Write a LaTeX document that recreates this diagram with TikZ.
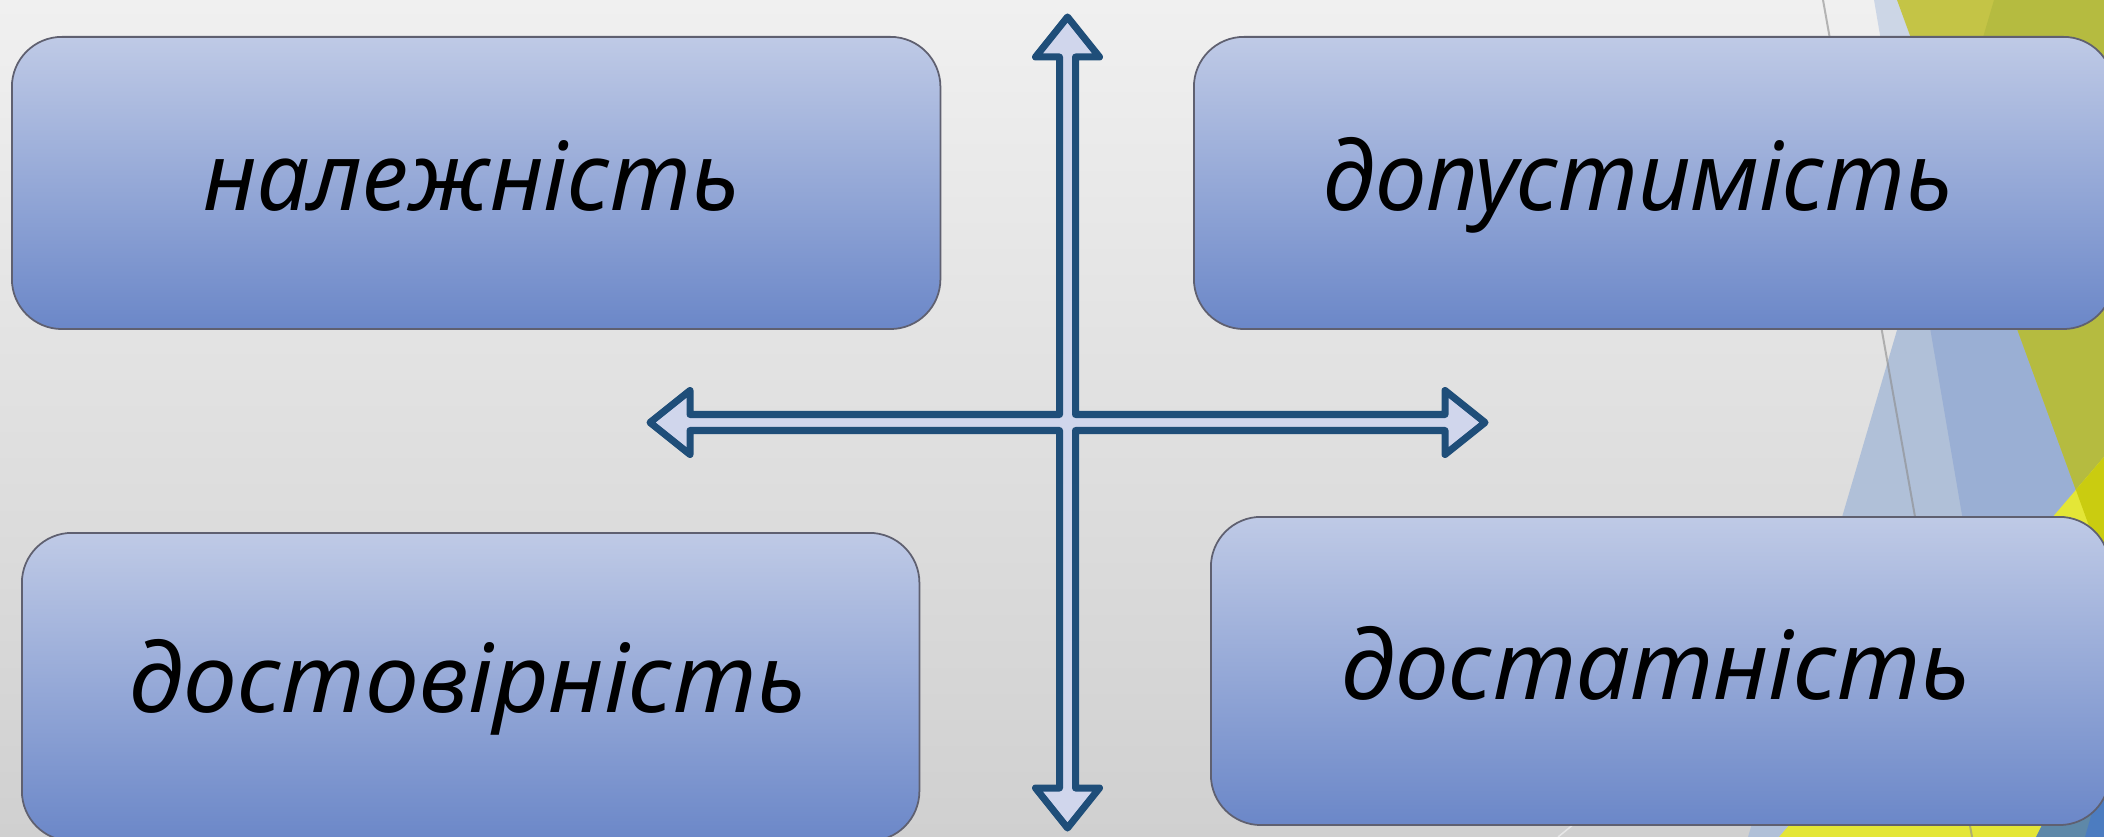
\documentclass[tikz,border=0pt]{standalone}
\usepackage{fontspec}
\newfontfamily\cf{Noto Sans}
\definecolor{bgtop}{HTML}{F0F0F0}
\definecolor{bgbot}{HTML}{D0D0D0}
\definecolor{boxtop}{HTML}{BFCAE6}
\definecolor{boxbot}{HTML}{6B87C8}
\definecolor{boxline}{HTML}{5F6070}
\definecolor{arrline}{HTML}{1F4E79}
\definecolor{arrfill}{HTML}{D0D6EC}
\definecolor{medblue}{HTML}{CCD6E6}
\definecolor{ltblue}{HTML}{B0C0D8}
\definecolor{bothblue}{HTML}{9AAFD4}
\definecolor{olive}{HTML}{C4C446}
\definecolor{darkolive}{HTML}{B5BB40}
\definecolor{yel}{HTML}{E4E637}
\definecolor{brightyel}{HTML}{CACC10}
\definecolor{steel}{HTML}{5E88A8}
\definecolor{deepblue}{HTML}{4C7CC0}
\tikzset{
  box/.style={draw=boxline, line width=0.5pt, rounded corners=0.5cm,
    top color=boxtop, bottom color=boxbot, anchor=north west, inner sep=0pt},
  lbl/.style={font=\cf\itshape\fontsize{27}{27}\selectfont, inner sep=0pt, anchor=base, text=black},
  arrst/.style={draw=arrline, fill=arrfill, line width=0.07cm, line join=round}
}
\begin{document}
\begin{tikzpicture}[x=0.01cm,y=-0.01cm]
\useasboundingbox (0,0) rectangle (2104,837);
\shade[top color=bgtop,bottom color=bgbot] (0,0) rectangle (2104,837);
% facet decoration
\fill[medblue] (1874,0) -- (2104,0) -- (2104,837) -- (2017,837) -- cycle;
\fill[ltblue] (1994,0) -- (2104,0) -- (2104,837) -- (1748,837) -- cycle;
\begin{scope}
\clip (1874,0) -- (2104,0) -- (2104,837) -- (2017,837) -- cycle;
\fill[bothblue] (1994,0) -- (2104,0) -- (2104,837) -- (1748,837) -- cycle;
\end{scope}
\fill[olive] (1897,0) -- (2104,0) -- (2104,567) -- cycle;
\begin{scope}
\clip (1897,0) -- (2104,0) -- (2104,567) -- cycle;
\fill[darkolive] (1994,0) -- (2104,0) -- (2104,837) -- (1748,837) -- cycle;
\end{scope}
\fill[yel] (2104,457) -- (1779,837) -- (2036,837) -- (2104,701) -- cycle;
\begin{scope}
\clip (2104,457) -- (1779,837) -- (2036,837) -- (2104,701) -- cycle;
\fill[brightyel] (1897,0) -- (2104,0) -- (2104,567) -- cycle;
\end{scope}
\fill[steel] (2036,837) -- (2104,701) -- (2104,837) -- cycle;
\fill[deepblue] (2085,837) -- (2104,770) -- (2104,837) -- cycle;
\draw[black!45, opacity=0.6, line width=0.02cm] (1823,0) -- (1972,837);
\draw[white, opacity=0.5, line width=0.015cm] (1558,837) -- (1640,770);
% boxes
\node[box, minimum width=9.28cm, minimum height=2.92cm] (b1) at (11,36) {};
\node[box, minimum width=9.19cm, minimum height=2.92cm] (b2) at (1193,36) {};
\node[box, minimum width=8.97cm, minimum height=3.08cm] (b3) at (21,532) {};
\node[box, minimum width=8.98cm, minimum height=3.08cm] (b4) at (1210,516) {};
% labels
\node[lbl] (t1) at (471.5,211) {\resizebox{5.35cm}{\height}{належність}};
\node[lbl] (t2) at (1638,211) {\resizebox{6.28cm}{\height}{допустимість}};
\node[lbl] (t3) at (468,712) {\resizebox{6.76cm}{\height}{достовірність}};
\node[lbl] (t4) at (1656,699) {\resizebox{6.28cm}{\height}{достатність}};
% quad arrow
\draw[arrst] (1067.5,17) -- (1099.5,57) -- (1075.5,57) -- (1075.5,414.5) -- (1445,414.5) -- (1445,390.5) -- (1485,422.5) -- (1445,454.5) -- (1445,430.5) -- (1075.5,430.5) -- (1075.5,788) -- (1099.5,788) -- (1067.5,828) -- (1035.5,788) -- (1059.5,788) -- (1059.5,430.5) -- (690,430.5) -- (690,454.5) -- (650,422.5) -- (690,390.5) -- (690,414.5) -- (1059.5,414.5) -- (1059.5,57) -- (1035.5,57) -- cycle;
\end{tikzpicture}
\end{document}
